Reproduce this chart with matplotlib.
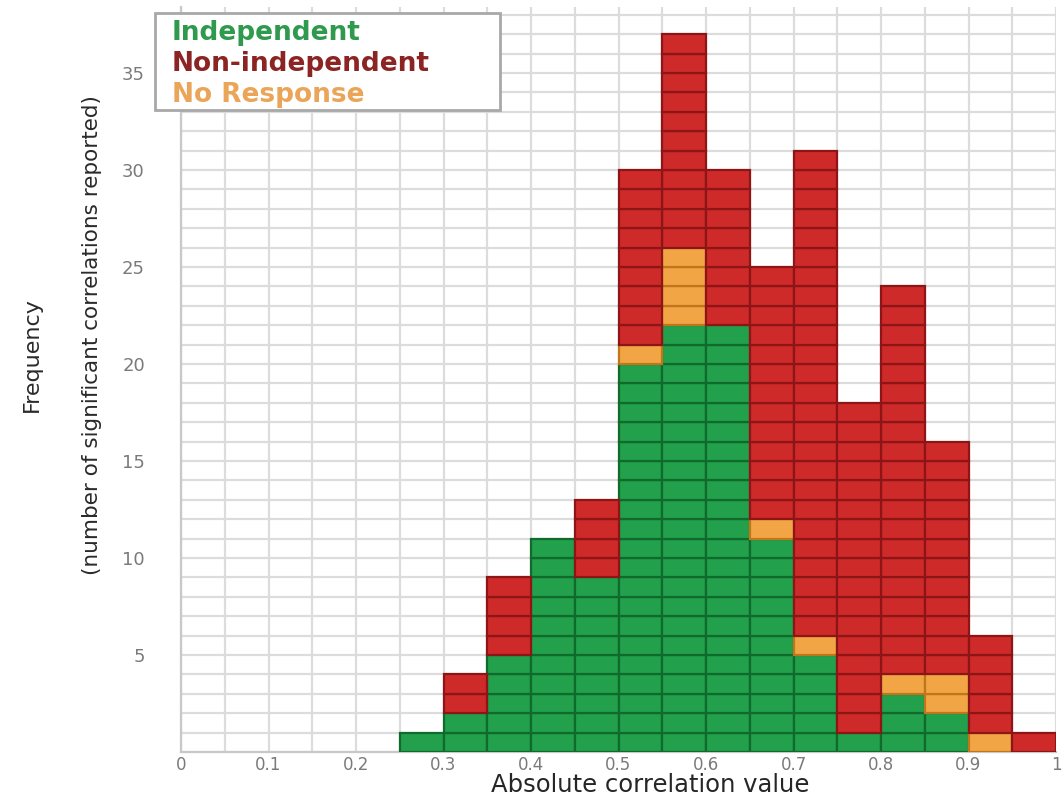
import matplotlib
matplotlib.use("Agg")
import matplotlib.pyplot as plt
from matplotlib.patches import Rectangle
import numpy as np

# left edge of each 0.05-wide bin
bin_left = [0.25, 0.30, 0.35, 0.40, 0.45, 0.50, 0.55, 0.60, 0.65, 0.70, 0.75, 0.80, 0.85, 0.90, 0.95]
# number of studies per bin, stacked bottom to top in this order
independent = [1, 2, 5, 11, 9, 20, 22, 22, 11, 5, 1, 3, 2, 0, 0]
no_response = [0, 0, 0, 0, 0, 1, 4, 0, 1, 1, 0, 1, 2, 1, 0]
non_independent = [0, 2, 4, 0, 4, 9, 11, 8, 13, 25, 17, 20, 12, 5, 1]

series_names = ["Independent", "No Response", "Non-independent"]
series_counts = [independent, no_response, non_independent]
cell_face = ["#22a04c", "#f2a544", "#cf2a2a"]
cell_edge = ["#0f6a2c", "#c0761a", "#8e1515"]

legend_names = ["Independent", "Non-independent", "No Response"]
legend_colors = ["#2f9a4e", "#8c2424", "#eaa558"]

xtick_vals = [0, 0.1, 0.2, 0.3, 0.4, 0.5, 0.6, 0.7, 0.8, 0.9, 1.0]
xtick_text = ["0", "0.1", "0.2", "0.3", "0.4", "0.5", "0.6", "0.7", "0.8", "0.9", "1"]
ytick_vals = [5, 10, 15, 20, 25, 30, 35]

W, H = 1062, 797
fig = plt.figure(figsize=(W / 100, H / 100), dpi=100)
ax = fig.add_axes([181 / W, 45 / H, 875 / W, 38.4 * 19.4 / H])

x = np.array(bin_left)
base = np.zeros(len(bin_left))
for counts, fc, ec in zip(series_counts, cell_face, cell_edge):
    counts = np.array(counts)
    # one bar per study: each cell is height 1
    for k in range(counts.max()):
        sel = counts > k
        ax.bar(x[sel], 1, width=0.05, bottom=base[sel] + k, align="edge",
               color=fc, edgecolor=ec, linewidth=1.6, zorder=3)
    base = base + counts

ax.set_xlim(0, 1.0)
ax.set_ylim(0, 38.4)
ax.set_xticks(xtick_vals)
ax.set_xticklabels(xtick_text)
ax.set_yticks(ytick_vals)
ax.set_xticks(np.arange(0, 1.0001, 0.05), minor=True)
ax.set_yticks(np.arange(0, 39, 1), minor=True)
ax.grid(which="both", color="#dcdcdc", linewidth=1.6, zorder=0)
ax.set_axisbelow(True)
ax.tick_params(which="both", length=0)
ax.tick_params(axis="x", labelsize=12, labelcolor="#7a7a7a", pad=3)
ax.tick_params(axis="y", labelsize=13, labelcolor="#7a7a7a", pad=26)
for s in ["top", "right"]:
    ax.spines[s].set_visible(False)
for s in ["left", "bottom"]:
    ax.spines[s].set_color("#c8c8c8")
    ax.spines[s].set_linewidth(1.6)

# axis titles
fig.text(650 / W, 1 - 785 / H, "Absolute correlation value", ha="center", va="center",
         fontsize=17.5, color="#262626")
fig.text(32 / W, 1 - 355 / H, "Frequency", rotation=90, ha="center", va="center",
         fontsize=16, color="#2a2a2a")
fig.text(92 / W, 1 - 335 / H, "(number of significant correlations reported)", rotation=90,
         ha="center", va="center", fontsize=15.5, color="#2a2a2a")

# legend box with coloured text
fig.patches.append(Rectangle((155 / W, 1 - 110 / H), 345 / W, 97 / H, transform=fig.transFigure,
                             facecolor="white", edgecolor="#a8a8a8", linewidth=2, zorder=5))
for i, (name, col) in enumerate(zip(legend_names, legend_colors)):
    fig.text(172 / W, 1 - (33 + 31 * i) / H, name, ha="left", va="center",
             fontsize=19, fontweight="bold", color=col, zorder=6)

fig.savefig("out.png", dpi=100)
